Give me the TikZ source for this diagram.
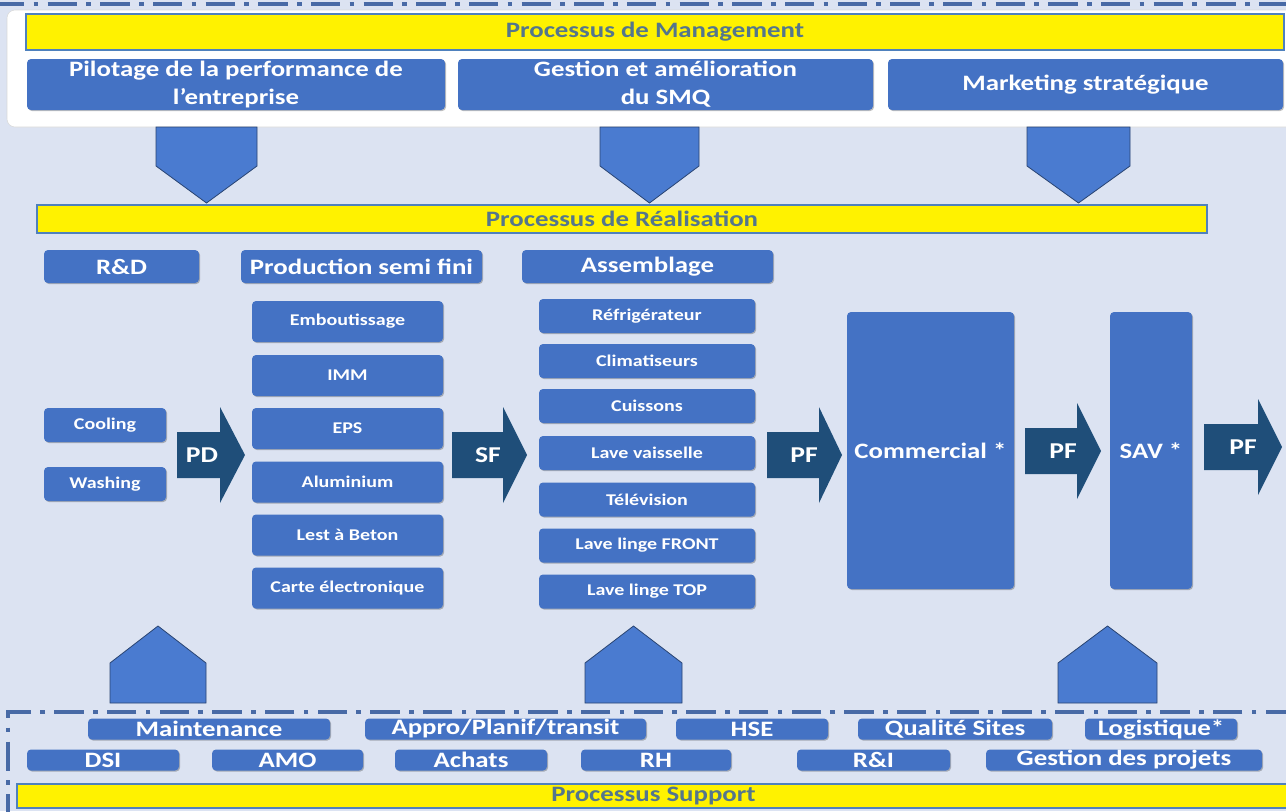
\documentclass[tikz,border=0pt]{standalone}
\usepackage{fontspec}
\setmainfont{Carlito}[FakeStretch=1.22]
\usetikzlibrary{shadows}
\definecolor{bgblue}{RGB}{220,227,242}
\definecolor{boxblue}{RGB}{68,114,196}
\definecolor{feedblue}{RGB}{74,123,208}
\definecolor{flowblue}{RGB}{31,78,121}
\definecolor{barline}{RGB}{79,129,189}
\definecolor{bartext}{RGB}{84,118,140}
\definecolor{dashblue}{RGB}{72,106,166}
\tikzset{
	sz/.style 2 args={minimum width=#1*0.75pt, minimum height=#2*0.75pt},
	box/.style={rectangle, fill=boxblue, rounded corners=3pt, inner sep=0pt, align=center, text=white,
		font=\bfseries\fontsize{16.5}{21}\selectfont,
		drop shadow={shadow xshift=0.8pt, shadow yshift=-0.8pt, fill=black, opacity=0.25}},
	item/.style={box, font=\bfseries\fontsize{12.3}{14}\selectfont},
	bar/.style={rectangle, fill=yellow, draw=barline, line width=0.8pt, inner sep=0pt, text=bartext,
		font=\bfseries\fontsize{16.5}{20}\selectfont},
	flow/.style={fill=flowblue},
	flowlbl/.style={text=white, inner sep=0pt, font=\bfseries\fontsize{17}{20}\selectfont},
	feed/.style={fill=feedblue, draw=feedblue!55!black, line width=0.6pt},
	frame/.style={draw=dashblue, line width=2.6pt, dash pattern=on 22pt off 7pt on 3.5pt off 7pt}
}

\begin{document}
\begin{tikzpicture}[x=0.75pt, y=-0.75pt]
	\fill[bgblue] (0,0) rectangle (1286,811);
	\useasboundingbox (0,0) rectangle (1286,811);

	\draw[frame] (-5,4) -- (1295,4);
	\fill[white, draw=gray!30, rounded corners=6pt] (7,10) rectangle (1300,127);

	% management
	\node[bar, sz={1258}{36}] (mgmt) at (655,32) {Processus de Management};
	\node[box, sz={418}{51}] (pilot) at (236,84.5) {Pilotage de la performance de\\l’entreprise};
	\node[box, sz={415}{51}] (smq) at (665.5,84.5) {Gestion et amélioration\\du SMQ};
	\node[box, sz={395}{51}] (mkt) at (1085.5,84.5) {Marketing stratégique};

	\foreach \l/\r in {156/257, 600/699, 1027/1130}
		\draw[feed] (\l,127) -- (\r,127) -- (\r,166) -- ({(\l+\r)/2},203) -- (\l,166) -- cycle;

	% realisation
	\node[bar, sz={1170}{28}] (real) at (622,219) {Processus de Réalisation};
	\node[box, sz={155}{33}] (rd) at (121.5,266.5) {R\&D};
	\node[box, sz={241}{33}] (prod) at (361.5,266.5) {Production semi fini};
	\node[box, sz={251}{33}] (asm) at (647.5,266.5) {Assemblage};

	\node[item, sz={122}{34}] (cool) at (105,425) {Cooling};
	\node[item, sz={122}{34}] (wash) at (105,484) {Washing};

	\node[item, sz={191}{41}] (emb) at (347.5,321.5) {Emboutissage};
	\node[item, sz={191}{41}] (imm) at (347.5,375.5) {IMM};
	\node[item, sz={191}{41}] (eps) at (347.5,428.5) {EPS};
	\node[item, sz={191}{41}] (alu) at (347.5,482) {Aluminium};
	\node[item, sz={191}{41}] (lest) at (347.5,535) {Lest à Beton};
	\node[item, sz={191}{41}] (carte) at (347.5,588) {Carte électronique};

	\node[item, sz={216}{34}] (frigo) at (647,316) {Réfrigérateur};
	\node[item, sz={216}{34}] (clim) at (647,361) {Climatiseurs};
	\node[item, sz={216}{34}] (cuis) at (647,406) {Cuissons};
	\node[item, sz={216}{34}] (lvais) at (647,453) {Lave vaisselle};
	\node[item, sz={216}{34}] (tv) at (647,499.5) {Télévision};
	\node[item, sz={216}{34}] (front) at (647,545.5) {Lave linge FRONT};
	\node[item, sz={216}{34}] (top) at (647,591.5) {Lave linge TOP};

	\node[box, sz={167}{277}] (com) at (930.5,450.5) {Commercial *};
	\node[box, sz={82}{277}] (sav) at (1151,450.5) {SAV *};

	\foreach \tl/\nk/\tp/\cy/\lx/\name/\lbl in {177/220/245/455/202/pd/PD, 452/503/527/455/488/sf/SF,
			767/819/842/455/804/pfa/PF, 1025/1077/1101/451/1063/pfb/PF, 1204/1258/1282/447/1243/pfc/PF}{
		\fill[flow] (\tl,\cy-23) -- (\nk,\cy-23) -- (\nk,\cy-48) -- (\tp,\cy)
			-- (\nk,\cy+48) -- (\nk,\cy+23) -- (\tl,\cy+23) -- cycle;
		\node[flowlbl] (\name) at (\lx,\cy) {\lbl};
	}

	\foreach \l/\r in {110/206, 585/682, 1058/1157}
		\draw[feed] (\l,703) -- (\r,703) -- (\r,663) -- ({(\l+\r)/2},626) -- (\l,663) -- cycle;

	% support
	\draw[frame] (1295,712) -- (8,712) -- (8,820);
	\node[box, sz={242}{21}] (maint) at (209,729) {Maintenance};
	\node[box, sz={281}{21}] (appro) at (505.5,729) {Appro/Planif/transit};
	\node[box, sz={152}{21}] (hse) at (752,729) {HSE};
	\node[box, sz={194}{21}] (qual) at (955,729) {Qualité Sites};
	\node[box, sz={152}{21}] (logi) at (1161,729) {Logistique*};

	\node[box, sz={152}{21}] (dsi) at (103,760) {DSI};
	\node[box, sz={151}{21}] (amo) at (287.5,760) {AMO};
	\node[box, sz={152}{21}] (achat) at (471,760) {Achats};
	\node[box, sz={150}{21}] (rh) at (656,760) {RH};
	\node[box, sz={153}{21}] (ri) at (873.5,760) {R\&I};
	\node[box, sz={276}{21}] (gproj) at (1124,760) {Gestion des projets};

	\node[bar, sz={1273}{24}] (supp) at (653.5,796) {Processus Support};
\end{tikzpicture}
\end{document}
